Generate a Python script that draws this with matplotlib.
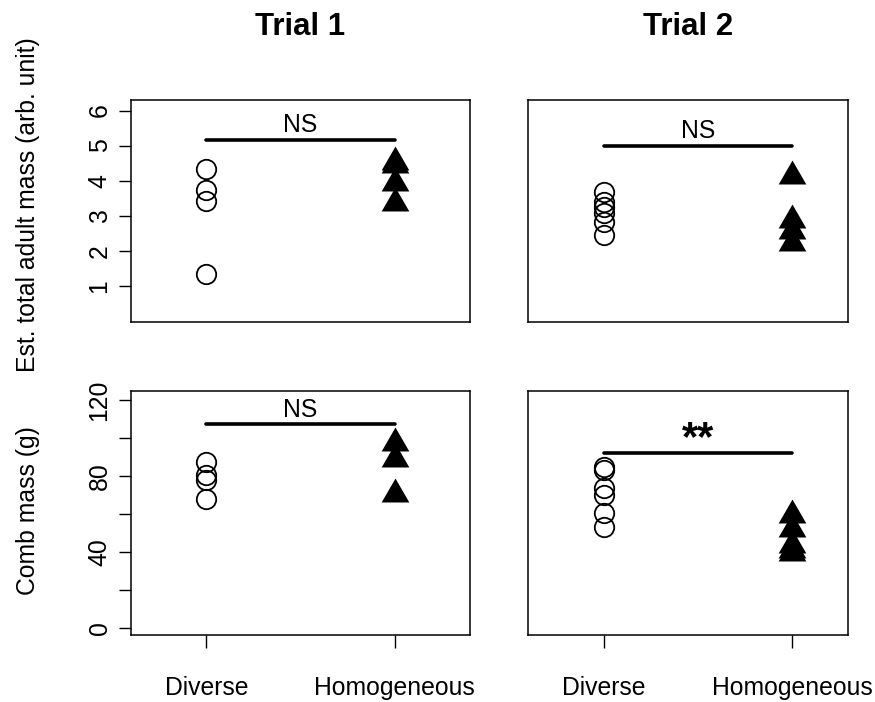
import matplotlib
matplotlib.use("Agg")
import matplotlib.pyplot as plt
import numpy as np

plt.rcParams['font.family'] = ['Liberation Sans', 'DejaVu Sans']

groups = ["Diverse", "Homogeneous"]
trials = ["Trial 1", "Trial 2"]

# Est. total adult mass (arb. unit)
adult_t1_diverse = [4.33, 3.74, 3.42, 1.33]
adult_t1_homog = [4.52, 4.46, 3.92, 3.36]
adult_t2_diverse = [3.68, 3.39, 3.25, 3.08, 2.82, 2.45]
adult_t2_homog = [4.13, 2.87, 2.56, 2.21]

# Comb mass (g)
comb_t1_diverse = [87.7, 80.7, 78.1, 67.9]
comb_t1_homog = [97.6, 89.3, 70.9]
comb_t2_diverse = [85.1, 83.4, 73.7, 70.2, 60.5, 53.2]
comb_t2_homog = [59.5, 52.5, 44.0, 41.0, 39.5]

sig_adult = [("NS", 5.17), ("NS", 5.0)]
sig_comb = [("NS", 107.5), ("**", 92.5)]

adult_yticks = [1, 2, 3, 4, 5, 6]
comb_yticks = [0, 20, 40, 60, 80, 100, 120]
comb_ylabels = ["0", "", "40", "", "80", "", "120"]

W, H = 875, 702
fig = plt.figure(figsize=(W / 100, H / 100), dpi=100)

def rect(x0, y0, x1, y1):
    return [x0 / W, 1 - y1 / H, (x1 - x0) / W, (y1 - y0) / H]

# R-style triangle (pch 17) centred on centroid
tri = [(0, 1.555), (1.347, -0.778), (-1.347, -0.778), (0, 1.555)]

cols = [(131, 470), (528, 848)]
xlims = [(0.6, 2.4), (0.6, 2.295)]
rows = [(100, 322), (391, 635.4)]

data = [
    [(adult_t1_diverse, adult_t1_homog), (adult_t2_diverse, adult_t2_homog)],
    [(comb_t1_diverse, comb_t1_homog), (comb_t2_diverse, comb_t2_homog)],
]
sigs = [sig_adult, sig_comb]
ylims = [(-0.03, 6.3), (-3.8, 125.0)]

FS = 17.8

for r in range(2):
    for c in range(2):
        ax = fig.add_axes(rect(cols[c][0], rows[r][0], cols[c][1], rows[r][1]))
        div, hom = data[r][c]
        ax.plot(np.ones(len(div)) * 1, div, linestyle='none', marker='o',
                markersize=14.0, markerfacecolor='none', markeredgecolor='black',
                markeredgewidth=1.3, clip_on=False)
        ax.plot(np.ones(len(hom)) * 2, hom, linestyle='none', marker=tri,
                markersize=23, markerfacecolor='black', markeredgecolor='black',
                markeredgewidth=0, clip_on=False)
        label, yv = sigs[r][c]
        ax.plot([1, 2], [yv, yv], color='black', linewidth=2.6,
                solid_capstyle='round')
        yr = ylims[r][1] - ylims[r][0]
        if label == "NS":
            ax.text(1.5, yv + 0.01 * yr, label, ha='center', va='bottom',
                    fontsize=FS)
        else:
            ax.text(1.5, yv - 0.025 * yr, label, ha='center', va='bottom',
                    fontsize=30, fontweight='bold')
        ax.set_xlim(*xlims[c])
        ax.set_ylim(*ylims[r])
        for s in ax.spines.values():
            s.set_linewidth(1.1)
        ax.tick_params(length=9, width=1.0, labelsize=FS, pad=5)
        if r == 1:
            ax.set_xticks([1, 2])
            ax.set_xticklabels(groups, fontsize=FS)
            ax.tick_params(axis='x', pad=20)
        else:
            ax.set_xticks([])
        if c == 0:
            if r == 0:
                ax.set_yticks(adult_yticks)
                ax.set_yticklabels([str(v) for v in adult_yticks], rotation=90,
                                   va='center')
            else:
                ax.set_yticks(comb_yticks)
                ax.set_yticklabels(comb_ylabels, rotation=90, va='center')
        else:
            ax.set_yticks([])

fig.text(300 / W, 1 - 27 / H, trials[0], ha='center', va='center',
         fontsize=22.5, fontweight='bold')
fig.text(688 / W, 1 - 27 / H, trials[1], ha='center', va='center',
         fontsize=22.5, fontweight='bold')
fig.text(28 / W, 1 - 205 / H, "Est. total adult mass (arb. unit)", rotation=90,
         ha='center', va='center', fontsize=FS)
fig.text(28 / W, 1 - 511 / H, "Comb mass (g)", rotation=90,
         ha='center', va='center', fontsize=FS)

fig.savefig("out.png", dpi=100)
